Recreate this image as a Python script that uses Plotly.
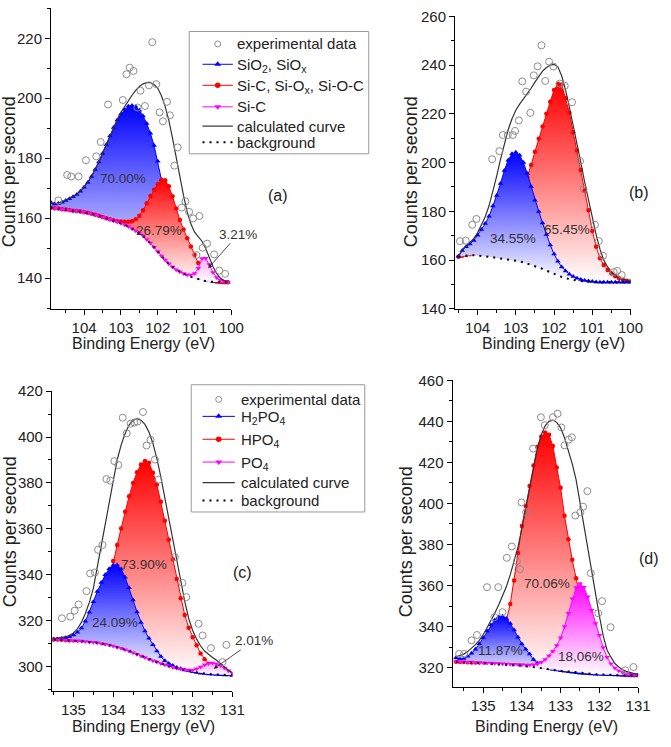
import numpy as np
import plotly.graph_objects as go

W, H = 671, 747

# ---------------- Panel (a) : Si 2p, sample a ----------------
E_a = np.round(np.arange(104.9, 100.05, -0.1), 1)
bg_a = [163.5, 163.3, 163.2, 163.0, 162.9, 162.7, 162.5, 162.4, 162.2, 162.0,
        161.8, 161.5, 161.1, 160.8, 160.4, 160.0, 159.6, 159.2, 158.8, 158.3,
        157.8, 157.2, 156.5, 155.8, 155.0, 154.1, 152.9, 151.7, 150.3, 148.9,
        147.4, 146.0, 144.8, 143.7, 142.8, 142.1, 141.4, 140.9, 140.4, 140.0,
        139.6, 139.3, 139.0, 138.8, 138.7, 138.6, 138.6, 138.6, 138.6]
sio2_a = [165.2, 164.7, 164.9, 165.3, 165.9, 166.5, 167.1, 167.9, 169.0, 170.3,
          171.9, 173.9, 176.2, 178.7, 181.6, 184.5, 187.4, 190.2, 192.7, 194.7,
          196.2, 197.3, 197.6, 197.2, 196.0, 194.1, 191.6, 188.3, 184.2, 179.0,
          172.8, 166.5, 160.8, 155.8, 151.5, 148.2, 145.6, 143.6, 142.1, 141.0,
          140.3, 139.8, 139.4, 139.1, 138.9, 138.7, 138.6, 138.6, 138.6]
sioc_a = [163.5, 163.3, 163.2, 163.0, 162.9, 162.7, 162.5, 162.4, 162.2, 162.0,
          161.8, 161.5, 161.1, 160.8, 160.4, 160.0, 159.6, 159.3, 159.0, 158.9,
          158.8, 158.8, 159.0, 159.6, 160.8, 162.6, 165.0, 167.4, 169.5, 171.3,
          172.8, 172.6, 170.6, 167.3, 163.2, 159.4, 156.2, 153.3, 150.5, 147.8,
          145.0, 142.6, 140.9, 139.9, 139.3, 138.9, 138.7, 138.6, 138.6]
sic_a = [163.5, 163.3, 163.2, 163.0, 162.9, 162.7, 162.5, 162.4, 162.2, 162.0,
         161.8, 161.5, 161.1, 160.8, 160.4, 160.0, 159.6, 159.2, 158.8, 158.3,
         157.8, 157.2, 156.5, 155.8, 155.0, 154.1, 152.9, 151.7, 150.3, 148.9,
         147.4, 146.0, 144.8, 143.7, 142.8, 142.1, 141.5, 141.1, 141.0, 141.5,
         143.3, 146.5, 146.6, 144.5, 141.9, 140.2, 139.3, 138.9, 138.7]
calc_a = [165.3, 164.9, 165.0, 165.4, 166.0, 166.6, 167.2, 168.0, 169.1, 170.4,
          172.0, 174.0, 176.3, 178.8, 181.7, 184.6, 187.6, 190.4, 193.0, 195.3,
          197.3, 199.2, 201.0, 202.6, 203.9, 204.8, 205.2, 205.2, 204.6, 203.3,
          200.8, 197.3, 192.6, 186.7, 180.0, 173.5, 167.5, 162.0, 158.0, 155.3,
          153.8, 152.3, 149.9, 146.8, 143.8, 141.5, 140.0, 139.2, 138.8]
expE_a = [104.70, 104.46, 104.35, 104.15, 103.95, 103.67, 103.55, 103.35, 102.95, 102.85,
          102.76, 102.66, 102.55, 102.47, 102.35, 102.24, 102.15, 102.04, 101.95, 101.86,
          101.75, 101.67, 101.55, 101.46, 101.35, 101.25, 101.15, 101.04, 100.95, 100.87,
          100.78, 100.66, 100.47, 100.33, 100.17]
expI_a = [165.9, 174.4, 173.9, 173.9, 179.3, 180.6, 185.4, 197.9, 199.4, 208.0,
          210.2, 209.1, 196.9, 202.5, 197.4, 204.3, 218.7, 204.7, 195.3, 192.3,
          198.8, 194.3, 177.5, 183.6, 163.5, 165.6, 162.1, 159.9, 147.7, 160.7,
          150.1, 151.5, 147.9, 142.5, 141.4]

# ---------------- Panel (b) ----------------
E_b = np.round(np.arange(104.5, 99.95, -0.1), 1)
bg_b = [161.4, 161.7, 161.9, 162.0, 162.0, 161.9, 161.8, 161.6, 161.4, 161.2,
        160.9, 160.7, 160.5, 160.3, 160.1, 159.8, 159.5, 159.1, 158.6, 158.1,
        157.6, 157.0, 156.4, 155.7, 155.0, 154.3, 153.7, 153.1, 152.6, 152.2,
        151.9, 151.6, 151.4, 151.2, 151.1, 151.0, 150.9, 150.9, 150.9, 150.9,
        150.9, 150.9, 150.9, 150.9, 150.9, 150.9]
sio2_b = [161.6, 164.0, 165.5, 166.6, 168.1, 170.2, 172.6, 175.0, 178.0, 182.2,
          186.5, 191.4, 196.8, 201.0, 203.6, 204.3, 203.0, 200.0, 195.5, 190.2,
          184.6, 180.0, 175.2, 170.5, 166.2, 162.5, 159.5, 157.2, 155.5, 154.2,
          153.3, 152.6, 152.1, 151.7, 151.4, 151.2, 151.0, 150.9, 150.9, 150.9,
          150.9, 150.9, 150.9, 150.9, 150.9, 150.9]
sioc_b = [161.4, 161.8, 162.1, 162.4, 162.7, 163.0, 163.5, 164.2, 165.2, 166.5,
          168.2, 170.3, 172.9, 175.8, 179.0, 182.0, 185.5, 189.5, 194.0, 199.0,
          204.5, 209.8, 214.8, 220.0, 225.0, 229.8, 232.3, 232.0, 226.5, 220.5,
          212.5, 205.0, 197.0, 188.5, 180.5, 172.0, 165.5, 160.8, 158.0, 156.0,
          154.5, 153.4, 152.6, 152.0, 151.6, 151.3]
calc_b = [161.6, 164.2, 165.8, 167.1, 168.8, 171.2, 174.2, 177.8, 182.3, 188.0,
          194.5, 201.3, 207.8, 213.5, 218.0, 221.5, 224.0, 226.0, 228.2, 230.5,
          233.0, 235.5, 237.5, 239.0, 240.0, 240.3, 239.3, 235.5, 229.8, 222.8,
          215.5, 208.0, 200.0, 192.0, 184.5, 177.0, 170.5, 164.5, 160.0, 157.2,
          155.2, 153.8, 152.8, 152.2, 151.7, 151.3]
expE_b = [104.46, 104.31, 104.14, 104.03, 103.62, 103.43, 103.34, 103.21, 103.08, 103.02,
          102.92, 102.83, 102.73, 102.62, 102.53, 102.43, 102.33, 102.23, 102.13, 102.02,
          101.85, 101.72, 101.53, 101.32, 101.23, 100.93, 100.83, 100.72, 100.44, 100.35,
          100.23]
expI_b = [167.8, 168.0, 174.5, 176.9, 201.4, 204.7, 211.3, 211.3, 211.3, 213.0,
          217.3, 233.3, 229.1, 220.4, 235.8, 239.5, 248.1, 233.5, 241.4, 239.4,
          232.4, 231.5, 224.8, 200.6, 189.2, 174.5, 167.8, 161.8, 155.1, 155.6,
          153.9]

# ---------------- Panel (c) : P 2p ----------------
E_c = np.round(np.arange(135.5, 130.95, -0.1), 1)
bg_c = [311.9, 311.8, 311.7, 311.6, 311.5, 311.4, 311.3, 311.2, 311.0, 310.8,
        310.6, 310.4, 310.1, 309.8, 309.4, 309.0, 308.5, 308.0, 307.4, 306.8,
        306.1, 305.4, 304.7, 304.0, 303.3, 302.6, 302.0, 301.4, 300.8, 300.3,
        299.8, 299.3, 298.9, 298.5, 298.1, 297.8, 297.5, 297.2, 297.0, 296.8,
        296.7, 296.6, 296.5, 296.4, 296.4, 296.3]
h2po4_c = [312.0, 312.1, 312.3, 312.6, 313.0, 313.8, 315.0, 316.8, 319.8, 323.7,
           328.3, 332.7, 336.7, 340.0, 342.6, 344.2, 344.3, 342.5, 339.0, 334.4,
           329.0, 323.8, 319.3, 315.5, 312.4, 309.6, 306.8, 304.4, 302.6, 301.4,
           300.5, 299.7, 299.1, 298.6, 298.2, 297.8, 297.5, 297.2, 297.0, 296.8,
           296.7, 296.6, 296.5, 296.4, 296.4, 296.3]
hpo4_c = [311.9, 311.8, 311.7, 311.6, 311.5, 311.5, 311.5, 311.7, 312.1, 313.0,
          314.6, 317.5, 322.0, 328.5, 337.0, 346.0, 353.0, 360.2, 367.5, 374.2,
          380.0, 384.7, 388.0, 389.6, 388.8, 384.5, 379.3, 371.8, 363.5, 355.3,
          346.8, 338.2, 329.8, 322.5, 317.0, 312.8, 309.3, 305.8, 303.3, 301.3,
          299.8, 298.7, 297.9, 297.3, 296.9, 296.6]
po4_c = [311.9, 311.8, 311.7, 311.6, 311.5, 311.4, 311.3, 311.2, 311.0, 310.8,
         310.6, 310.4, 310.1, 309.8, 309.4, 309.0, 308.5, 308.0, 307.4, 306.8,
         306.1, 305.4, 304.7, 304.0, 303.3, 302.6, 302.0, 301.4, 300.8, 300.3,
         299.8, 299.3, 299.0, 298.7, 298.5, 298.6, 299.1, 299.9, 300.8, 301.4,
         301.6, 301.3, 300.5, 299.4, 298.2, 297.2]
calc_c = [312.2, 312.4, 312.7, 313.0, 313.6, 314.7, 316.5, 319.3, 323.2, 328.0,
          334.0, 343.5, 353.5, 362.0, 371.5, 381.0, 390.0, 396.5, 401.5, 405.2,
          407.3, 408.0, 407.3, 405.5, 402.2, 397.2, 390.6, 382.5, 373.5, 364.0,
          354.3, 345.2, 336.5, 328.5, 321.0, 315.8, 312.0, 309.0, 306.8, 305.2,
          304.0, 302.8, 301.3, 299.8, 298.5, 297.5]
expE_c = [135.29, 135.08, 134.97, 134.87, 134.67, 134.58, 134.46, 134.38, 134.27, 134.17,
          134.07, 133.97, 133.87, 133.76, 133.66, 133.56, 133.47, 133.39, 133.25, 133.16,
          133.06, 132.95, 132.86, 132.45, 132.26, 132.16, 131.85, 131.75, 131.54, 131.25,
          131.15]
expI_c = [321.1, 321.8, 324.4, 327.1, 332.9, 340.6, 341.0, 350.9, 353.0, 381.7,
          381.0, 389.5, 387.8, 408.4, 401.6, 405.8, 406.3, 406.7, 410.9, 396.3,
          398.8, 390.2, 381.4, 347.7, 336.5, 330.3, 318.7, 313.6, 308.1, 302.0,
          309.5]

# ---------------- Panel (d) ----------------
E_d = np.round(np.arange(135.7, 130.95, -0.1), 1)
bg_d = [322.9, 322.8, 322.7, 322.6, 322.5, 322.4, 322.2, 322.1, 322.0, 321.9,
        321.8, 321.7, 321.6, 321.4, 321.3, 321.2, 321.1, 320.9, 320.7, 320.5,
        320.3, 320.0, 319.8, 319.5, 319.3, 319.0, 318.7, 318.5, 318.2, 318.0,
        317.7, 317.5, 317.3, 317.1, 317.0, 316.9, 316.8, 316.7, 316.6, 316.5,
        316.5, 316.4, 316.4, 316.3, 316.3, 316.3, 316.3, 316.3]
h2po4_d = [324.8, 324.3, 324.5, 325.5, 327.0, 329.0, 331.6, 334.6, 337.8, 340.8,
           343.2, 344.7, 345.0, 343.9, 341.5, 338.3, 334.8, 331.5, 329.0, 326.7,
           324.0, 322.3, 321.2, 320.2, 319.6, 319.1, 318.8, 318.5, 318.2, 318.0,
           317.7, 317.5, 317.3, 317.1, 317.0, 316.9, 316.8, 316.7, 316.6, 316.5,
           316.5, 316.4, 316.4, 316.3, 316.3, 316.3, 316.3, 316.3]
hpo4_d = [322.9, 322.8, 322.7, 322.6, 322.5, 322.5, 322.5, 322.8, 323.5, 325.0,
          328.0, 332.5, 338.0, 343.0, 351.0, 362.5, 375.9, 389.0, 398.8, 408.5,
          418.5, 427.5, 432.5, 434.5, 433.5, 428.0, 417.5, 407.6, 394.0, 382.5,
          372.5, 363.5, 354.0, 345.5, 338.0, 331.5, 326.5, 323.0, 320.5, 318.9,
          317.9, 317.2, 316.8, 316.6, 316.4, 316.3, 316.3, 316.3]
po4_d = [323.1, 323.0, 322.9, 322.8, 322.7, 322.6, 322.5, 322.4, 322.3, 322.2,
         322.1, 322.0, 321.9, 321.8, 321.7, 321.6, 321.5, 321.4, 321.3, 321.3,
         321.4, 321.8, 322.6, 324.0, 325.8, 328.0, 330.8, 334.6, 340.0, 346.5,
         353.5, 359.0, 361.0, 359.2, 354.5, 348.0, 341.5, 335.8, 329.8, 325.0,
         321.9, 319.8, 318.5, 317.6, 317.0, 316.7, 316.5, 316.3]
calc_d = [325.3, 325.8, 326.6, 327.8, 329.3, 331.2, 333.3, 336.0, 339.4, 342.8,
          346.5, 350.5, 354.8, 359.5, 365.3, 371.5, 378.8, 387.8, 397.3, 407.0,
          418.0, 427.0, 433.5, 437.8, 440.0, 440.6, 439.5, 436.8, 432.0, 426.0,
          419.3, 411.5, 400.5, 388.5, 377.5, 366.3, 355.5, 345.2, 335.5, 328.5,
          325.1, 322.0, 320.3, 319.0, 318.2, 317.6, 317.1, 316.8]
expE_d = [135.62, 135.49, 135.30, 135.16, 134.90, 134.71, 134.61, 134.50, 134.39, 134.26,
          134.13, 134.05, 134.01, 133.89, 133.71, 133.51, 133.41, 133.20, 133.08, 132.98,
          132.90, 132.79, 132.71, 132.62, 132.49, 132.42, 132.31, 132.22, 132.03, 131.93,
          131.71, 131.33, 131.12]
expI_d = [326.7, 326.7, 333.3, 335.9, 359.2, 344.6, 359.2, 347.0, 373.5, 379.0,
          371.9, 368.0, 400.5, 395.7, 426.7, 442.0, 438.1, 442.0, 443.7, 437.0,
          428.3, 431.1, 432.2, 394.1, 395.7, 398.4, 406.0, 366.0, 346.5, 352.4,
          339.7, 318.7, 320.3]

pct_a = ["70.00%", "26.79%", "3.21%"]
pct_b = ["34.55%", "65.45%"]
pct_c = ["73.90%", "24.09%", "2.01%"]
pct_d = ["70.06%", "11.87%", "18,06%"]

names_si = ["SiO<sub>2</sub>, SiO<sub>x</sub>", "Si-C, Si-O<sub>x</sub>, Si-O-C", "Si-C"]
names_p = ["H<sub>2</sub>PO<sub>4</sub>", "HPO<sub>4</sub>", "PO<sub>4</sub>"]

for arr, E in [(bg_a, E_a), (sio2_a, E_a), (sioc_a, E_a), (sic_a, E_a), (calc_a, E_a),
               (bg_b, E_b), (sio2_b, E_b), (sioc_b, E_b), (calc_b, E_b),
               (bg_c, E_c), (h2po4_c, E_c), (hpo4_c, E_c), (po4_c, E_c), (calc_c, E_c),
               (bg_d, E_d), (h2po4_d, E_d), (hpo4_d, E_d), (po4_d, E_d), (calc_d, E_d)]:
    assert len(arr) == len(E), (len(arr), len(E))

BLUE = dict(line="rgb(0,0,255)", sym="triangle-up", size=5,
            cs=[[0, "rgb(255,255,255)"], [1, "rgb(0,0,255)"]])
RED = dict(line="rgb(255,0,0)", sym="circle", size=4.5,
           cs=[[0, "rgb(255,255,255)"], [1, "rgb(255,0,0)"]])
MAG = dict(line="rgb(255,0,255)", sym="triangle-down", size=5,
           cs=[[0, "rgb(255,255,255)"], [1, "rgb(255,0,255)"]])
EXP_MARK = dict(symbol="circle-open", size=7, color="#8c8c8c", line=dict(width=1))
CALC_LINE = dict(color="#333333", width=1.2)
BG_LINE = dict(color="black", width=2, dash="2px,5px")

fig = go.Figure()


def add_panel(xa, ya, E, bg, comps, calc, expE, expI):
    for y, st in comps:
        fig.add_trace(go.Scatter(x=E, y=bg, mode="lines", line=dict(width=0),
                                 showlegend=False, hoverinfo="skip", xaxis=xa, yaxis=ya))
        fig.add_trace(go.Scatter(x=E, y=y, mode="lines+markers", fill="tonexty",
                                 fillgradient=dict(type="vertical", colorscale=st["cs"]),
                                 line=dict(color=st["line"], width=1),
                                 marker=dict(symbol=st["sym"], size=st["size"], color=st["line"]),
                                 showlegend=False, xaxis=xa, yaxis=ya))
    fig.add_trace(go.Scatter(x=E, y=bg, mode="lines", line=BG_LINE,
                             showlegend=False, xaxis=xa, yaxis=ya))
    fig.add_trace(go.Scatter(x=E, y=calc, mode="lines", line=CALC_LINE,
                             showlegend=False, xaxis=xa, yaxis=ya))
    fig.add_trace(go.Scatter(x=expE, y=expI, mode="markers", marker=EXP_MARK,
                             showlegend=False, xaxis=xa, yaxis=ya))


add_panel("x", "y", E_a, bg_a, [(sio2_a, BLUE), (sioc_a, RED), (sic_a, MAG)], calc_a, expE_a, expI_a)
add_panel("x2", "y2", E_b, bg_b, [(sioc_b, RED), (sio2_b, BLUE)], calc_b, expE_b, expI_b)
add_panel("x3", "y3", E_c, bg_c, [(hpo4_c, RED), (h2po4_c, BLUE), (po4_c, MAG)], calc_c, expE_c, expI_c)
add_panel("x4", "y4", E_d, bg_d, [(hpo4_d, RED), (h2po4_d, BLUE), (po4_d, MAG)], calc_d, expE_d, expI_d)


# ---------- hand-drawn legends on a full-figure pixel overlay axis (x5/y5) ----------
def draw_legend(box, rows, sample_x, text_x, names):
    x0, y0, x1, y1 = box
    fig.add_shape(type="rect", xref="x5", yref="y5", x0=x0, y0=y0, x1=x1, y1=y1,
                  line=dict(color="#999999", width=1), fillcolor="white", layer="below")
    sx0, sxm, sx1 = sample_x
    labels = ["experimental data"] + names + ["calculated curve", "background"]
    # experimental data symbol
    fig.add_trace(go.Scatter(x=[sxm], y=[rows[0]], mode="markers",
                             marker=dict(symbol="circle-open", size=6, color="#8c8c8c", line=dict(width=1)),
                             showlegend=False, hoverinfo="skip", xaxis="x5", yaxis="y5"))
    for r, st in zip(rows[1:4], [BLUE, RED, MAG]):
        fig.add_trace(go.Scatter(x=[sx0, sx1], y=[r, r], mode="lines",
                                 line=dict(color=st["line"], width=1),
                                 showlegend=False, hoverinfo="skip", xaxis="x5", yaxis="y5"))
        fig.add_trace(go.Scatter(x=[sxm], y=[r], mode="markers",
                                 marker=dict(symbol=st["sym"], size=st["size"] + 1, color=st["line"]),
                                 showlegend=False, hoverinfo="skip", xaxis="x5", yaxis="y5"))
    fig.add_trace(go.Scatter(x=[sx0, sx1], y=[rows[4], rows[4]], mode="lines", line=CALC_LINE,
                             showlegend=False, hoverinfo="skip", xaxis="x5", yaxis="y5"))
    fig.add_trace(go.Scatter(x=[sx0, sx1], y=[rows[5], rows[5]], mode="lines", line=BG_LINE,
                             showlegend=False, hoverinfo="skip", xaxis="x5", yaxis="y5"))
    for i, (lab, r) in enumerate(zip(labels, rows)):
        dy = 1.5 if "<sub>" in lab else 0
        fig.add_annotation(text=lab, x=text_x, y=r + dy, xref="x5", yref="y5",
                           xanchor="left", yanchor="middle", showarrow=False,
                           font=dict(size=15, color="#222222"))


draw_legend((193, 24, 376, 149), [36.7, 57.5, 79.0, 101.0, 120.7, 137.3],
            (206.5, 222, 237.5), 240, names_si)
draw_legend((195, 385, 372, 515), [400.0, 417.3, 440.7, 464.0, 485.0, 503.3],
            (206.5, 223, 239.5), 244, names_p)


def dom_x(p0, p1):
    return [p0 / W, p1 / W]


def dom_y(top, bot):
    return [1 - bot / H, 1 - top / H]


tickfont = dict(size=15, color="#222222")
common_x = dict(showline=True, linecolor="black", linewidth=1, ticks="outside", ticklen=5,
                tickcolor="black", showgrid=False, zeroline=False, dtick=1, tickfont=tickfont,
                minor=dict(ticks="outside", ticklen=3, dtick=0.5, tickcolor="black"))
common_y = dict(showline=True, linecolor="black", linewidth=1, ticks="outside", ticklen=5,
                tickcolor="black", showgrid=False, zeroline=False, dtick=20, tickfont=tickfont,
                minor=dict(ticks="outside", ticklen=3, dtick=10, tickcolor="black"))

fig.update_layout(
    width=W, height=H, margin=dict(l=0, r=0, t=0, b=0),
    paper_bgcolor="white", plot_bgcolor="rgba(0,0,0,0)", showlegend=False,
    font=dict(family="Liberation Sans, Arial, sans-serif", color="#222222"),
    xaxis=dict(domain=dom_x(52, 236), range=[104.9, 100.0], anchor="y", tick0=100, **common_x),
    yaxis=dict(domain=dom_y(0, 308), range=[129.55, 230.1], anchor="x", **common_y),
    xaxis2=dict(domain=dom_x(464, 643), range=[104.59, 100.0], anchor="y2", tick0=100, **common_x),
    yaxis2=dict(domain=dom_y(8, 308), range=[139.8, 260.2], anchor="x2", **common_y),
    xaxis3=dict(domain=dom_x(53, 237), range=[135.54, 131.0], anchor="y3", tick0=131, **common_x),
    yaxis3=dict(domain=dom_y(391, 698), range=[289.4, 420.2], anchor="x3", **common_y),
    xaxis4=dict(domain=dom_x(461.5, 650.7), range=[135.79, 131.0], anchor="y4", tick0=131, **common_x),
    yaxis4=dict(domain=dom_y(380, 694), range=[310.5, 460.2], anchor="x4", **common_y),
    xaxis5=dict(domain=[0, 1], range=[0, W], anchor="y5", visible=False, fixedrange=True),
    yaxis5=dict(domain=[0, 1], range=[H, 0], anchor="x5", visible=False, fixedrange=True),
)


def ann_px(text, px, py, size=13.5, angle=0, color="#333333"):
    fig.add_annotation(text=text, x=px, y=py, xref="x5", yref="y5",
                       showarrow=False, font=dict(size=size, color=color), textangle=angle,
                       xanchor="center", yanchor="middle")


# axis titles
for cx, cy in [(146, 343), (564, 343), (146, 734), (557, 734)]:
    ann_px("Binding Energy (eV)", cx, cy, size=16, color="#222222")
for cx, cy in [(10, 167), (420, 167), (10, 535), (414, 545)]:
    ann_px("Counts per second", cx, cy, size=18, angle=-90, color="#222222")

# panel labels
for lab, cx, cy in [("(a)", 283, 192), ("(b)", 652, 189), ("(c)", 247, 577), ("(d)", 662, 563)]:
    ann_px(lab, cx, cy, size=16, color="#222222")

# percentages
ann_px(pct_a[0], 125, 174)
ann_px(pct_a[1], 162, 227)
ann_px(pct_b[0], 523, 236)
ann_px(pct_b[1], 578, 226)
ann_px(pct_c[0], 147, 569)
ann_px(pct_c[1], 117, 628)
ann_px(pct_d[0], 558, 588)
ann_px(pct_d[1], 510, 657)
ann_px(pct_d[2], 592, 663)

# small-component labels with arrows
fig.add_annotation(text=pct_a[2], x=100.63, y=143.3, xref="x", yref="y", ax=30, ay=-34,
                   showarrow=True, arrowhead=2, arrowsize=1, arrowwidth=0.8, arrowcolor="#222222",
                   font=dict(size=13.5, color="#333333"))
fig.add_annotation(text=pct_c[2], x=131.47, y=299.1, xref="x3", yref="y3", ax=40, ay=-28,
                   showarrow=True, arrowhead=2, arrowsize=1, arrowwidth=0.8, arrowcolor="#222222",
                   font=dict(size=13.5, color="#333333"))

fig.write_html("out.html")
